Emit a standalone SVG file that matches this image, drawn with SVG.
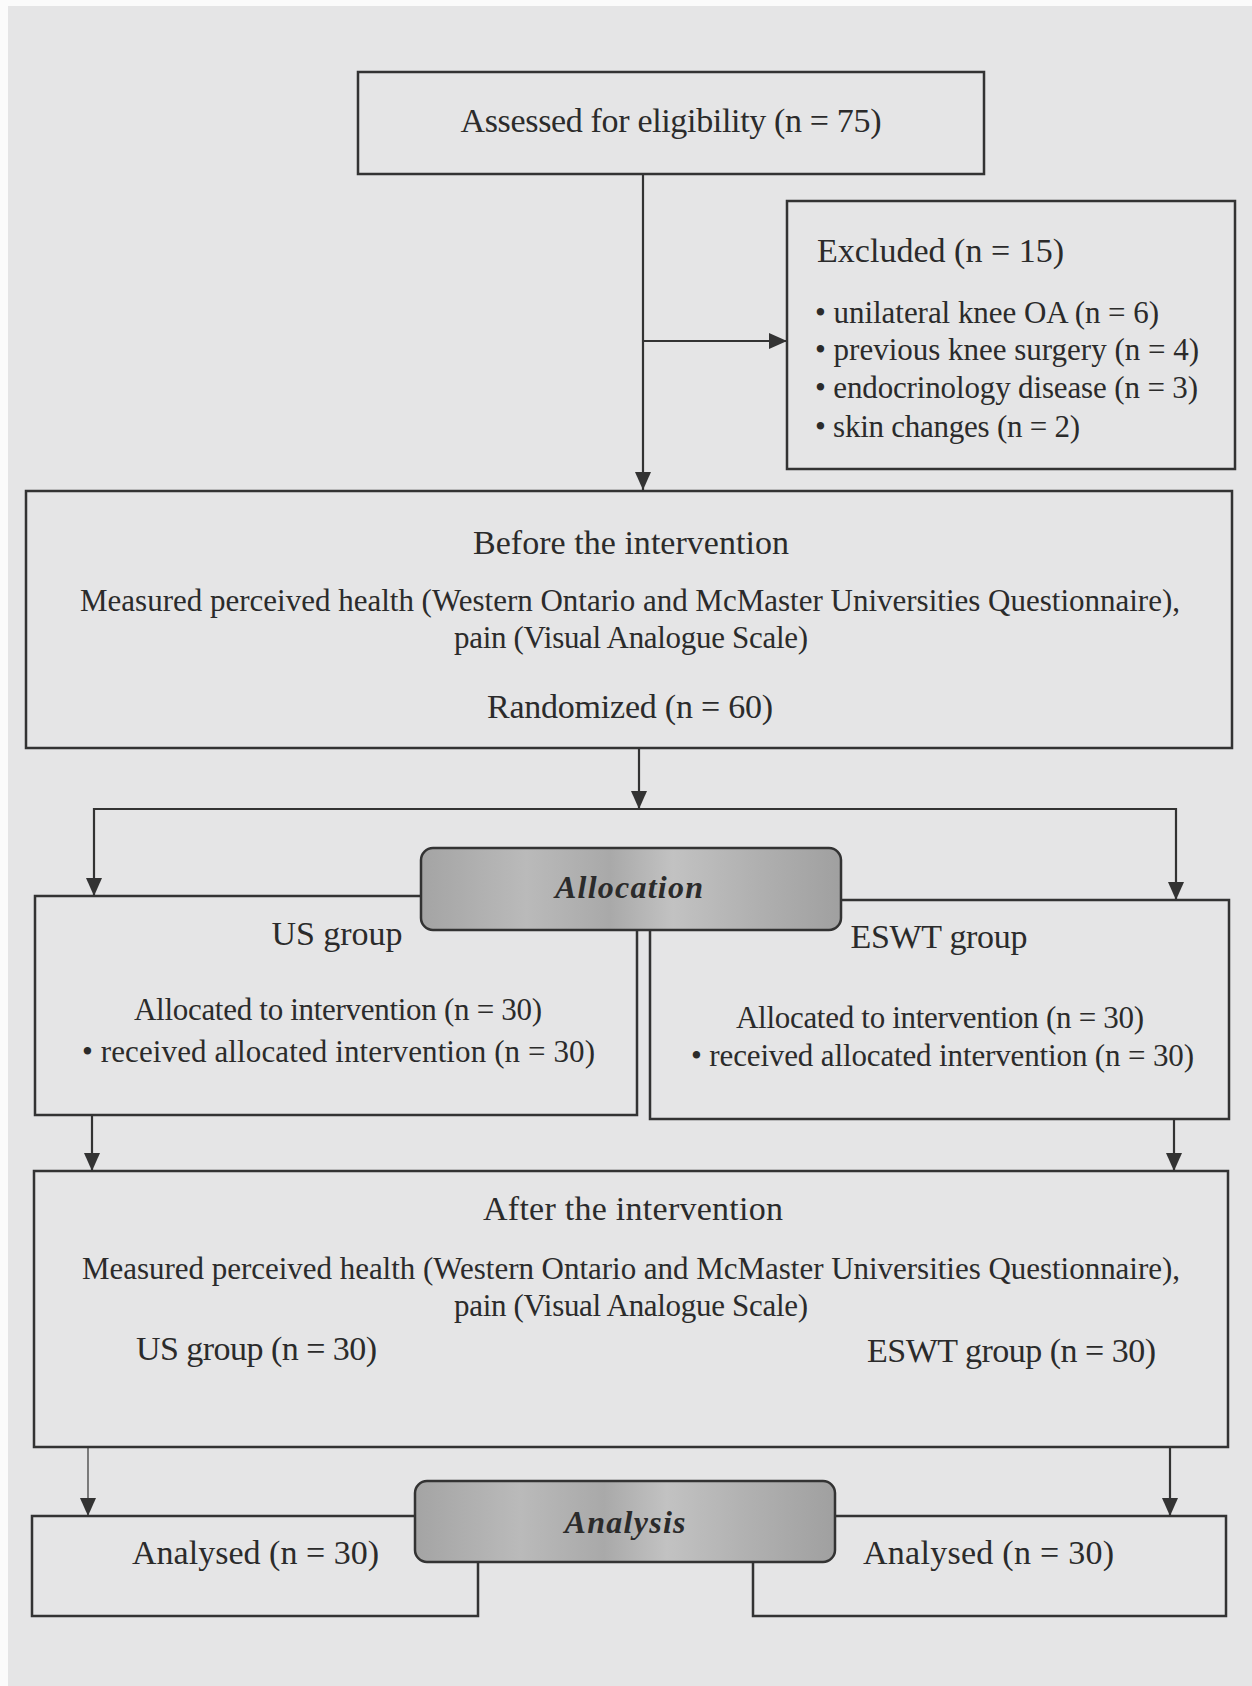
<svg xmlns="http://www.w3.org/2000/svg" width="1252" height="1686" viewBox="0 0 1252 1686">
<style>
.box{fill:none;stroke:#333;stroke-width:2.5}
.lbl{fill:#2b2b2b;font-family:"Liberation Serif","Times New Roman",serif;font-size:31px}
.big{font-size:34px}
.c{text-anchor:middle}
.hdr{fill:#2b2b2b;font-family:"Liberation Serif","Times New Roman",serif;font-size:32px;font-weight:bold;font-style:italic;text-anchor:middle}
.con{fill:none;stroke:#333;stroke-width:2.2}
.rbox{fill:url(#gray);stroke:#333;stroke-width:2.5}
</style>
<defs>
<marker id="ah" markerUnits="userSpaceOnUse" markerWidth="20" markerHeight="18" refX="18" refY="8" orient="auto">
<path d="M0,0 L18,8 L0,16 Z" fill="#333"/>
</marker>
<linearGradient id="gray" x1="0" y1="0" x2="1" y2="0">
<stop offset="0" stop-color="#a4a4a4"/>
<stop offset="0.25" stop-color="#bababa"/>
<stop offset="0.45" stop-color="#a9a9a9"/>
<stop offset="0.6" stop-color="#c2c2c2"/>
<stop offset="0.8" stop-color="#b0b0b0"/>
<stop offset="1" stop-color="#a0a0a0"/>
</linearGradient>
</defs>
<rect x="0" y="0" width="1252" height="1686" fill="#fbfbfb"/>
<rect x="8" y="6" width="1244" height="1680" fill="#e5e5e6"/>

<g id="connectors">
<path class="con" d="M643,174 V490" marker-end="url(#ah)"/>
<path class="con" d="M643,341 H787" marker-end="url(#ah)"/>
<path class="con" d="M639,748 V809" marker-end="url(#ah)"/>
<path class="con" d="M639,809 H94 V896" marker-end="url(#ah)"/>
<path class="con" d="M639,809 H1176 V900" marker-end="url(#ah)"/>
<path class="con" d="M92,1115 V1171" marker-end="url(#ah)"/>
<path class="con" d="M1174,1119 V1171" marker-end="url(#ah)"/>
<path class="con" style="stroke-width:1.2" d="M88,1447 V1516" marker-end="url(#ah)"/>
<path class="con" d="M1170,1447 V1516" marker-end="url(#ah)"/>
</g>

<g id="assessed">
<rect class="box" x="358" y="72" width="626" height="102"/>
<text class="lbl big c" x="671" y="132" textLength="421">Assessed for eligibility (n = 75)</text>
</g>

<g id="excluded">
<rect class="box" x="787" y="201" width="448" height="268"/>
<text class="lbl big" x="817" y="262" textLength="247">Excluded  (n = 15)</text>
<text class="lbl" x="815" y="323" textLength="344">• unilateral knee OA (n = 6)</text>
<text class="lbl" x="815" y="360" textLength="384">• previous knee surgery (n = 4)</text>
<text class="lbl" x="815" y="398" textLength="383">• endocrinology disease (n = 3)</text>
<text class="lbl" x="815" y="437" textLength="265">• skin changes (n = 2)</text>
</g>

<g id="before">
<rect class="box" x="26" y="491" width="1206" height="257"/>
<text class="lbl big c" x="631" y="554" textLength="316">Before the intervention</text>
<text class="lbl c" x="630" y="611" textLength="1100">Measured perceived health (Western Ontario and McMaster Universities Questionnaire),</text>
<text class="lbl c" x="631" y="648" textLength="354">pain (Visual Analogue Scale)</text>
<text class="lbl big c" x="630" y="718" textLength="286">Randomized (n = 60)</text>
</g>

<g id="us-group">
<rect class="box" x="35" y="896" width="602" height="219"/>
<text class="lbl big c" x="337" y="945" textLength="131">US group</text>
<text class="lbl c" x="338" y="1020" textLength="408">Allocated to intervention (n = 30)</text>
<text class="lbl" x="82" y="1062" textLength="513">• received allocated intervention (n = 30)</text>
</g>

<g id="eswt-group">
<rect class="box" x="650" y="900" width="579" height="219"/>
<text class="lbl big c" x="939" y="948" textLength="177">ESWT group</text>
<text class="lbl c" x="940" y="1028" textLength="408">Allocated to intervention (n = 30)</text>
<text class="lbl" x="691" y="1066" textLength="503">• received allocated intervention (n = 30)</text>
</g>

<g id="allocation">
<rect class="rbox" x="421" y="848" width="420" height="82" rx="12"/>
<text class="hdr" x="629" y="898" textLength="148">Allocation</text>
</g>

<g id="after">
<rect class="box" x="34" y="1171" width="1194" height="276"/>
<text class="lbl big c" x="633" y="1220" textLength="300">After the intervention</text>
<text class="lbl c" x="631" y="1279" textLength="1098">Measured perceived health (Western Ontario and McMaster Universities Questionnaire),</text>
<text class="lbl c" x="631" y="1316" textLength="354">pain (Visual Analogue Scale)</text>
<text class="lbl big" x="136" y="1360" textLength="241">US group (n = 30)</text>
<text class="lbl big" x="867" y="1362" textLength="289">ESWT group (n = 30)</text>
</g>

<g id="analysed-us">
<rect class="box" x="32" y="1516" width="446" height="100"/>
<text class="lbl big" x="132" y="1564" textLength="247">Analysed  (n = 30)</text>
</g>

<g id="analysed-eswt">
<rect class="box" x="753" y="1516" width="473" height="100"/>
<text class="lbl big" x="863" y="1564" textLength="251">Analysed  (n = 30)</text>
</g>

<g id="analysis">
<rect class="rbox" x="415" y="1481" width="420" height="81" rx="12"/>
<text class="hdr" x="625" y="1533" textLength="121">Analysis</text>
</g>
</svg>
